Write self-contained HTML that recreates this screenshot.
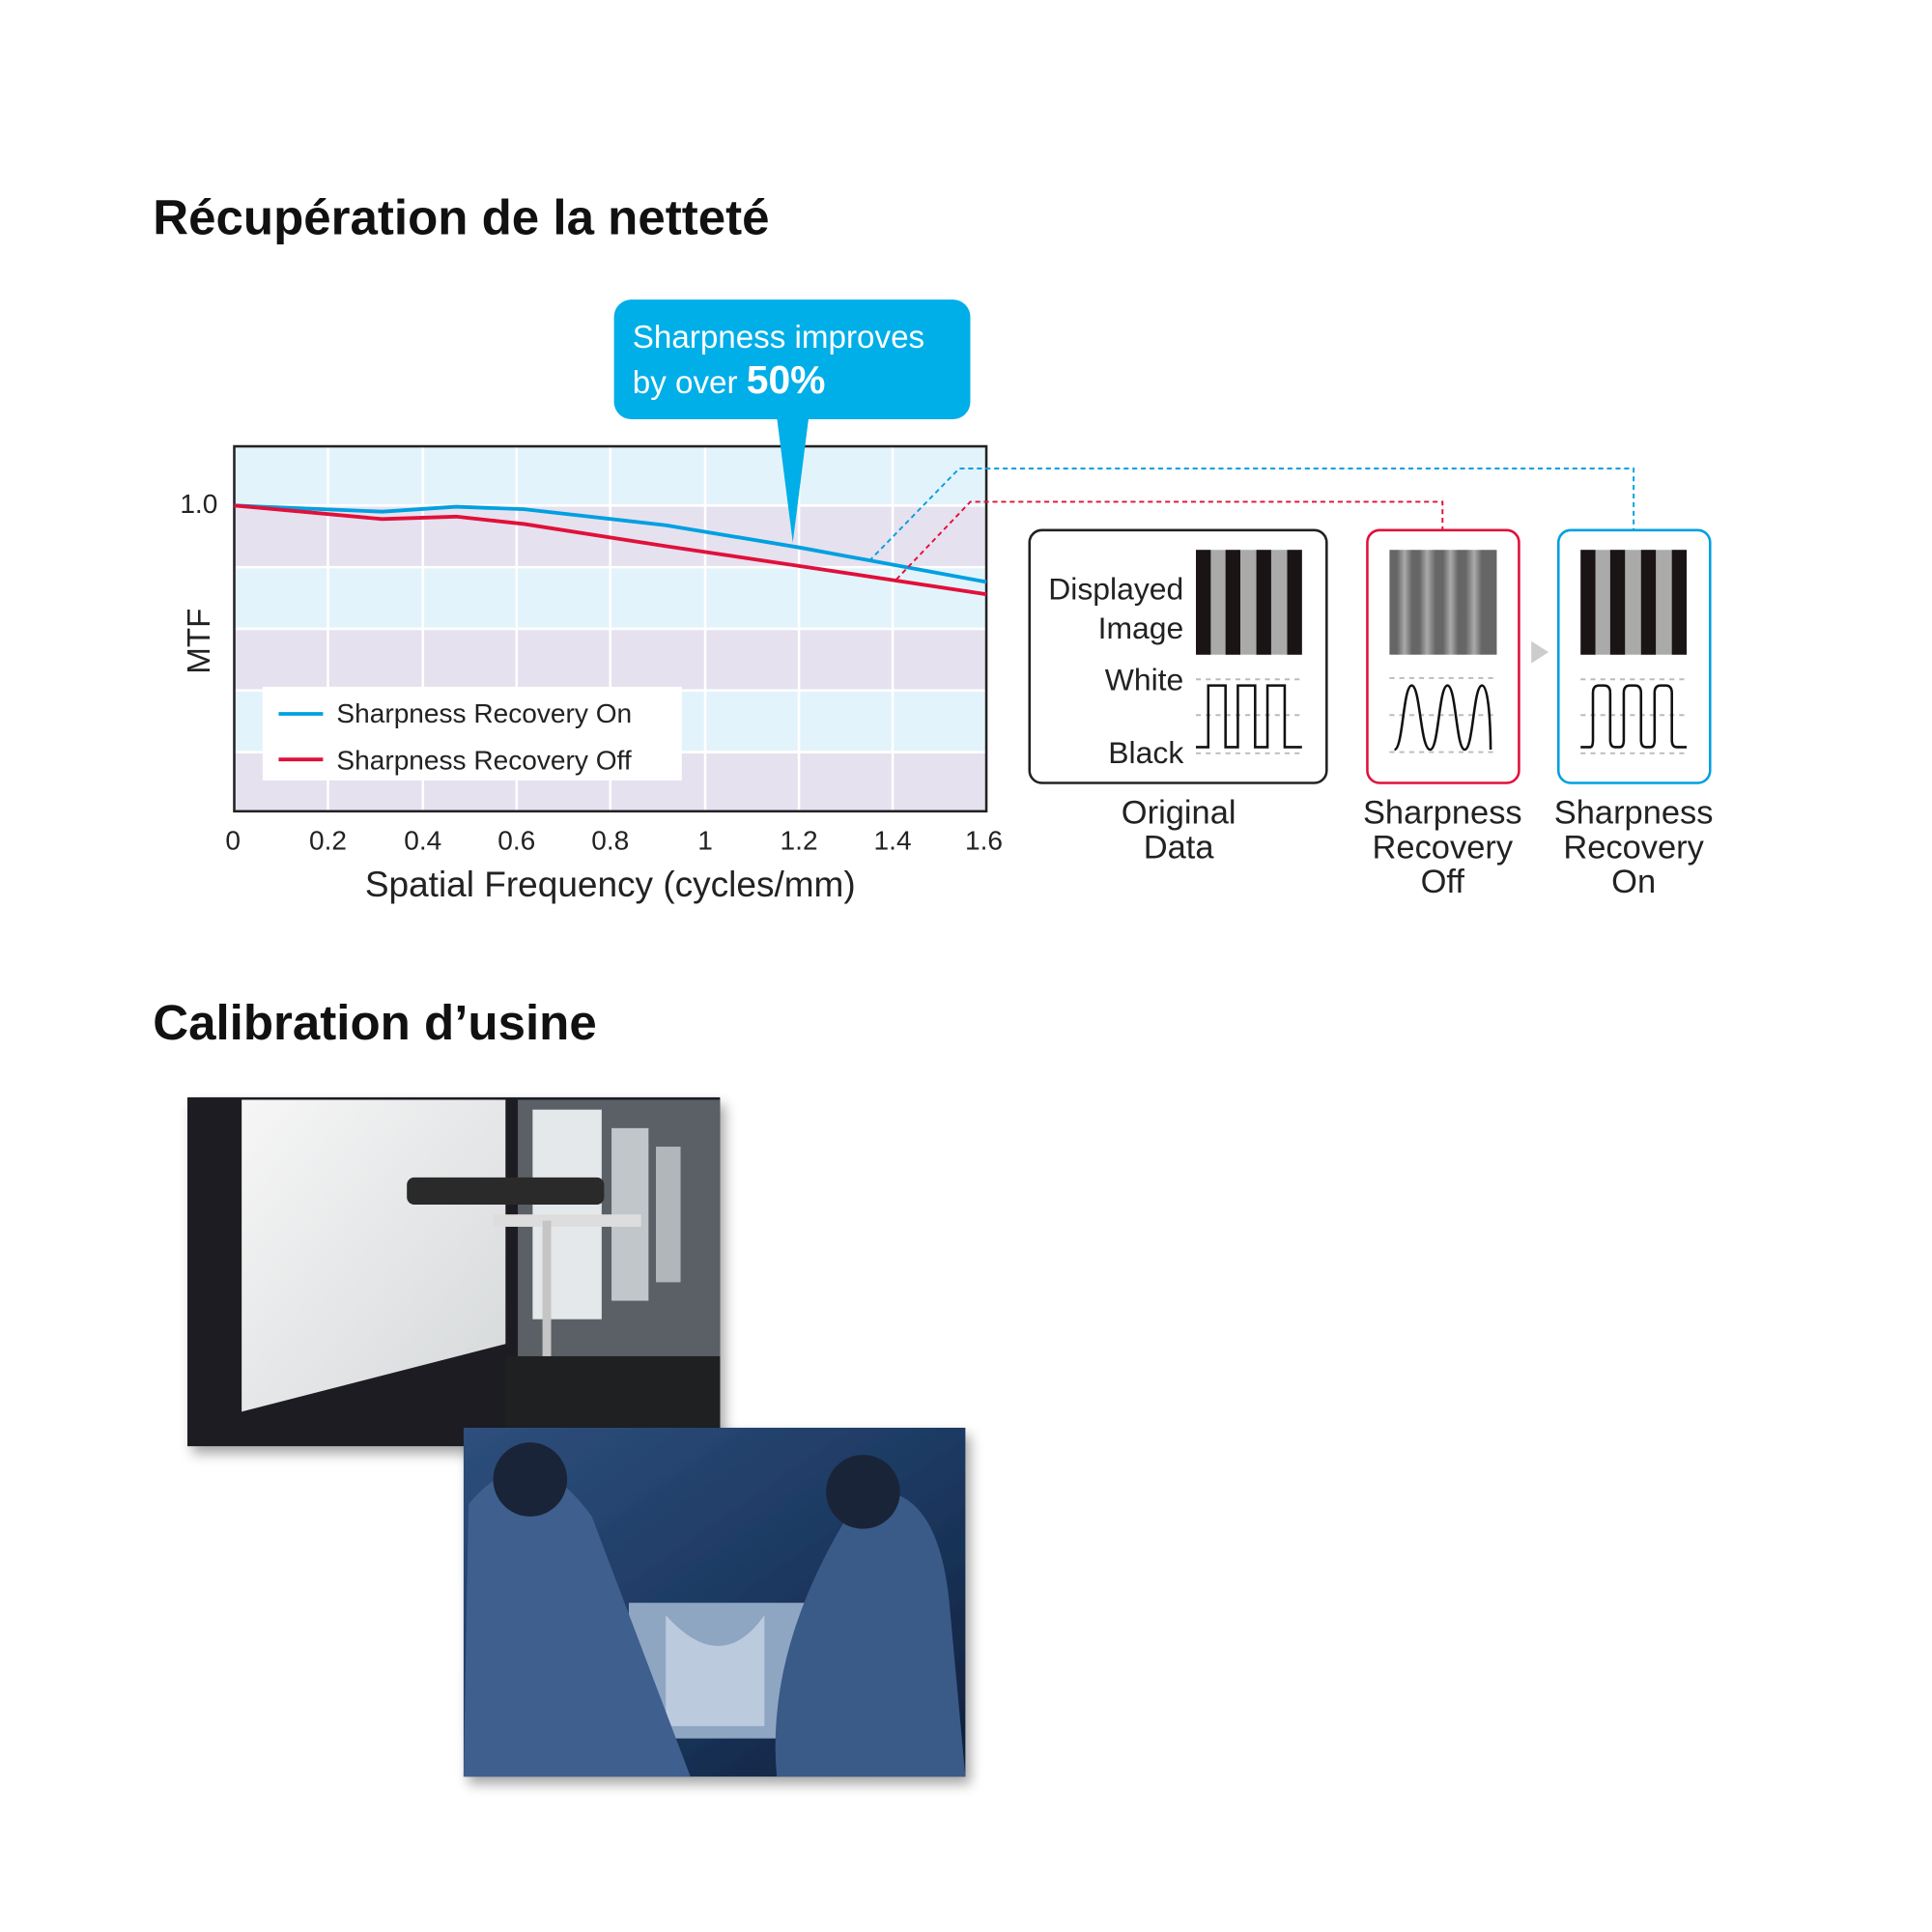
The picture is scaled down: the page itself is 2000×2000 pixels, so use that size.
<!DOCTYPE html>
<html><head><meta charset="utf-8"><style>html,body{margin:0;padding:0;background:#fff}svg{display:block}</style></head><body>
<svg width="2000" height="2000" viewBox="0 0 1567 1567" xmlns="http://www.w3.org/2000/svg" font-family="Liberation Sans, DejaVu Sans, sans-serif">
<defs>
<linearGradient id="blur" x1="0" x2="1">
<stop offset="0" stop-color="#666"/><stop offset="0.07" stop-color="#666"/><stop offset="0.14" stop-color="#aaa"/><stop offset="0.21" stop-color="#666"/><stop offset="0.28" stop-color="#666"/><stop offset="0.35" stop-color="#aaa"/><stop offset="0.43" stop-color="#666"/><stop offset="0.5" stop-color="#666"/><stop offset="0.57" stop-color="#aaa"/><stop offset="0.64" stop-color="#666"/><stop offset="0.71" stop-color="#666"/><stop offset="0.79" stop-color="#aaa"/><stop offset="0.86" stop-color="#666"/><stop offset="1" stop-color="#666"/>
</linearGradient>
<linearGradient id="scr" x1="0" y1="0" x2="1" y2="1"><stop offset="0" stop-color="#f6f6f6"/><stop offset="1" stop-color="#d5d8da"/></linearGradient>
<linearGradient id="lab" x1="0" y1="0" x2="1" y2="1"><stop offset="0" stop-color="#2e4f7c"/><stop offset="0.5" stop-color="#1d3a63"/><stop offset="1" stop-color="#0f1f3a"/></linearGradient>
<filter id="sh"><feDropShadow dx="4" dy="6" stdDeviation="5" flood-opacity="0.35"/></filter>
</defs>
<text x="124" y="190" font-size="40" font-weight="bold" fill="#111">Récupération de la netteté</text>
<text x="124" y="843" font-size="40" font-weight="bold" fill="#111">Calibration d’usine</text>
<rect x="190" y="362" width="610" height="296" fill="#e6e1ef"/>
<rect x="190" y="362" width="610" height="48" fill="#e3f3fb"/>
<rect x="190" y="460" width="610" height="50" fill="#e3f3fb"/>
<rect x="190" y="560" width="610" height="50" fill="#e3f3fb"/>
<g stroke="#fff" stroke-width="2">
<line x1="190" y1="410" x2="800" y2="410"/><line x1="190" y1="460" x2="800" y2="460"/><line x1="190" y1="510" x2="800" y2="510"/><line x1="190" y1="560" x2="800" y2="560"/><line x1="190" y1="610" x2="800" y2="610"/>
<line x1="266" y1="362" x2="266" y2="658"/><line x1="343" y1="362" x2="343" y2="658"/><line x1="419" y1="362" x2="419" y2="658"/><line x1="495" y1="362" x2="495" y2="658"/><line x1="572" y1="362" x2="572" y2="658"/><line x1="648" y1="362" x2="648" y2="658"/><line x1="724" y1="362" x2="724" y2="658"/>
</g>
<rect x="190" y="362" width="610" height="296" fill="none" stroke="#222" stroke-width="2"/>
<polyline points="190,410 310,415 370,411 425,413 540,426 648,444 800,472" fill="none" stroke="#00a0e0" stroke-width="3"/>
<polyline points="190,410 310,421 370,419 425,425 540,443 648,459 800,482" fill="none" stroke="#e0103a" stroke-width="3"/>
<rect x="213" y="557" width="340" height="76" fill="#fff"/>
<line x1="226" y1="579" x2="262" y2="579" stroke="#00a0e0" stroke-width="3"/>
<line x1="226" y1="616" x2="262" y2="616" stroke="#e0103a" stroke-width="3"/>
<text x="273" y="586" font-size="22" fill="#222">Sharpness Recovery On</text>
<text x="273" y="624" font-size="22" fill="#222">Sharpness Recovery Off</text>
<text x="146" y="416" font-size="22" fill="#222">1.0</text>
<text x="170" y="520" font-size="26" fill="#222" transform="rotate(-90 170 520)" text-anchor="middle">MTF</text>
<g font-size="22" fill="#222" text-anchor="middle">
<text x="189" y="689">0</text><text x="266" y="689">0.2</text><text x="343" y="689">0.4</text><text x="419" y="689">0.6</text><text x="495" y="689">0.8</text><text x="572" y="689">1</text><text x="648" y="689">1.2</text><text x="724" y="689">1.4</text><text x="798" y="689">1.6</text>
</g>
<text x="495" y="727" font-size="29" fill="#222" text-anchor="middle">Spatial Frequency (cycles/mm)</text>
<rect x="498" y="243" width="289" height="97" rx="14" fill="#00aee8"/>
<polygon points="630,338 656,338 643,440" fill="#00aee8"/>
<text x="513" y="282" font-size="26" fill="#fff">Sharpness improves</text>
<text x="513" y="319" font-size="26" fill="#fff">by over <tspan font-weight="bold" font-size="32">50%</tspan></text>
<polyline points="705,455 778,380 1325,380 1325,430" fill="none" stroke="#00a0e0" stroke-width="1.5" stroke-dasharray="4,3"/>
<polyline points="727,470 787,407 1170,407 1170,430" fill="none" stroke="#e0103a" stroke-width="1.5" stroke-dasharray="4,3"/>
<rect x="835" y="430" width="241" height="205" rx="10" fill="#fff" stroke="#222" stroke-width="2"/>
<rect x="1109" y="430" width="123" height="205" rx="10" fill="#fff" stroke="#e0103a" stroke-width="2"/>
<rect x="1264" y="430" width="123" height="205" rx="10" fill="#fff" stroke="#00a0e0" stroke-width="2"/>
<polygon points="1242,520 1256,529 1242,538" fill="#ccc"/>
<g font-size="25" fill="#222" text-anchor="end" font-family="Liberation Sans Narrow, Liberation Sans, sans-serif">
<text x="960" y="486">Displayed</text><text x="960" y="518">Image</text><text x="960" y="560">White</text><text x="960" y="619">Black</text>
</g>
<rect x="970" y="446" width="86" height="85" fill="#aaa"/>
<g fill="#1a1414"><rect x="970" y="446" width="12" height="85"/><rect x="994" y="446" width="12" height="85"/><rect x="1019" y="446" width="12" height="85"/><rect x="1044" y="446" width="12" height="85"/></g>
<rect x="1127" y="446" width="87" height="85" fill="url(#blur)"/>
<rect x="1282" y="446" width="86" height="85" fill="#aaa"/>
<g fill="#1a1414"><rect x="1282" y="446" width="12" height="85"/><rect x="1306" y="446" width="12" height="85"/><rect x="1331" y="446" width="12" height="85"/><rect x="1356" y="446" width="12" height="85"/></g>
<g stroke="#bbb" stroke-width="1.5" stroke-dasharray="4,4">
<line x1="970" y1="551" x2="1056" y2="551"/><line x1="970" y1="580" x2="1056" y2="580"/><line x1="970" y1="611" x2="1056" y2="611"/>
<line x1="1127" y1="550" x2="1214" y2="550"/><line x1="1127" y1="580" x2="1214" y2="580"/><line x1="1127" y1="610" x2="1214" y2="610"/>
<line x1="1282" y1="551" x2="1368" y2="551"/><line x1="1282" y1="580" x2="1368" y2="580"/><line x1="1282" y1="611" x2="1368" y2="611"/>
</g>
<polyline points="970,606 980,606 980,556 994,556 994,606 1004,606 1004,556 1018,556 1018,606 1028,606 1028,556 1042,556 1042,606 1056,606" fill="none" stroke="#111" stroke-width="2"/>
<path d="M1131,608 C1138,608 1138,556 1145,556 C1152,556 1152,608 1160,608 C1167,608 1167,556 1174,556 C1181,556 1181,608 1188,608 C1195,608 1195,556 1202,556 C1209,556 1209,608 1209,608" fill="none" stroke="#111" stroke-width="2"/>
<path d="M1282,606 L1290,606 Q1292,606 1292,600 L1292,562 Q1292,556 1297,556 L1301,556 Q1306,556 1306,562 L1306,600 Q1306,606 1310,606 L1314,606 Q1317,606 1317,600 L1317,562 Q1317,556 1322,556 L1326,556 Q1331,556 1331,562 L1331,600 Q1331,606 1335,606 L1339,606 Q1342,606 1342,600 L1342,562 Q1342,556 1347,556 L1351,556 Q1356,556 1356,562 L1356,600 Q1356,606 1360,606 L1368,606" fill="none" stroke="#111" stroke-width="2"/>
<g font-size="27" fill="#222" text-anchor="middle">
<text x="956" y="668">Original</text><text x="956" y="696">Data</text>
<text x="1170" y="668">Sharpness</text><text x="1170" y="696">Recovery</text><text x="1170" y="724">Off</text>
<text x="1325" y="668">Sharpness</text><text x="1325" y="696">Recovery</text><text x="1325" y="724">On</text>
</g>
<g filter="url(#sh)">
<rect x="152" y="890" width="432" height="283" fill="#1d1f22"/>
</g>
<polygon points="196,892 410,892 410,1090 196,1145" fill="url(#scr)"/>
<rect x="420" y="892" width="164" height="210" fill="#5a6066"/>
<rect x="432" y="900" width="56" height="170" fill="#e4e8ea"/>
<rect x="496" y="915" width="30" height="140" fill="#c0c6ca"/>
<rect x="532" y="930" width="20" height="110" fill="#b0b6ba"/>
<rect x="330" y="955" width="160" height="22" rx="6" fill="#2a2a2a"/>
<rect x="400" y="985" width="120" height="10" fill="#ddd"/>
<rect x="440" y="990" width="7" height="183" fill="#c5c5c5"/>
<rect x="410" y="1100" width="174" height="73" fill="#1e2022"/>
<g filter="url(#sh)">
<rect x="376" y="1158" width="407" height="283" fill="url(#lab)"/>
</g>
<rect x="510" y="1300" width="150" height="110" fill="#8ea6c2"/>
<path d="M540,1310 Q585,1360 620,1310 L620,1400 L540,1400 Z" fill="#d8e2ee" opacity="0.6"/>
<path d="M380,1220 Q430,1160 480,1230 L560,1441 L376,1441 Z" fill="#3f5f8f"/>
<path d="M700,1210 Q760,1200 770,1300 L783,1441 L630,1441 Q620,1330 700,1210 Z" fill="#3a5a88"/>
<circle cx="430" cy="1200" r="30" fill="#1a2438"/>
<circle cx="700" cy="1210" r="30" fill="#1a2438"/>
</svg>
</body></html>
